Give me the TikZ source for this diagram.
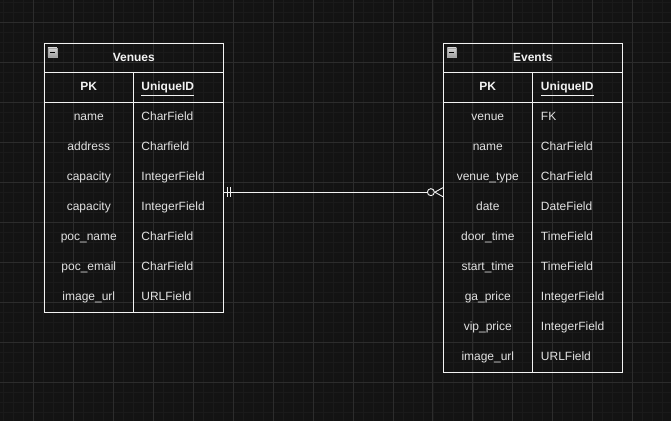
\documentclass[tikz,border=0pt]{standalone}
\usepackage{fontspec}
\setmainfont{Liberation Sans}
\usetikzlibrary{calc,positioning}
\definecolor{canvas}{HTML}{131313}
\definecolor{minorline}{HTML}{1A1A1A}
\definecolor{majorline}{HTML}{2C2C2C}
\definecolor{ink}{HTML}{F2F2F2}
\definecolor{soft}{HTML}{E2E2E2}
\begin{document}
\begin{tikzpicture}[x=1pt,y=-1pt,
		every node/.style={font=\fontsize{12}{14}\selectfont,text=soft,inner sep=0pt,text height=8.8pt,text depth=2.4pt},
		tbl/.style={draw=ink,line width=0.9pt,anchor=north west,minimum width=179pt,text height=,text depth=},
		rule/.style={draw=ink,line width=0.9pt},
		head/.style={font=\fontsize{12}{14}\selectfont\bfseries,text=ink},
		fld/.style={anchor=west},
		link/.style={draw=ink,line width=1.3pt},
		toggle/.style={draw=gray!70,top color=gray!35,bottom color=gray!75,line width=0.5pt}]
			% canvas and grid
			\fill[canvas] (0,0) rectangle (671,421);
			\foreach \gx in {3,13,...,663} \draw[minorline,line width=0.6pt] (\gx,0) -- (\gx,421);
			\foreach \gy in {2,12,...,412} \draw[minorline,line width=0.6pt] (0,\gy) -- (671,\gy);
			\foreach \gx in {33,73,...,633} \draw[majorline,line width=0.8pt] (\gx,0) -- (\gx,421);
			\foreach \gy in {22,62,...,382} \draw[majorline,line width=0.8pt] (0,\gy) -- (671,\gy);
			\useasboundingbox (0,0) rectangle (671,421);
			% Venues table
			\node[tbl,minimum height=269pt] (venues) at (44,43) {};
			\draw[rule] (44,72) -- (223,72);
			\draw[rule] (44,102) -- (223,102);
			\draw[rule] (133,72) -- (133,312);
			\draw[toggle] (47.5,47.5) rectangle (56.5,56.5);
			\draw[black,line width=1.2pt] (49.5,52) -- (54.5,52);
			\node[head] (v-title) at (133.5,57.5) {Venues};
			\node[head] (v-pk) at (88.5,87.5) {PK};
			\node[head,fld] (v-id) at (141,87.5) {\underline{UniqueID}};
			\node (v-name) at (88.5,117) {name};
			\node[fld] (v-name-t) at (141,117) {CharField};
			\node (v-address) at (88.5,147) {address};
			\node[fld] (v-address-t) at (141,147) {Charfield};
			\node (v-capacity) at (88.5,177) {capacity};
			\node[fld] (v-capacity-t) at (141,177) {IntegerField};
			\node (v-capacity2) at (88.5,207) {capacity};
			\node[fld] (v-capacity2-t) at (141,207) {IntegerField};
			\node (v-poc) at (88.5,237) {poc\_name};
			\node[fld] (v-poc-t) at (141,237) {CharField};
			\node (v-email) at (88.5,267) {poc\_email};
			\node[fld] (v-email-t) at (141,267) {CharField};
			\node (v-image) at (88.5,297) {image\_url};
			\node[fld] (v-image-t) at (141,297) {URLField};
			% Events table
			\node[tbl,minimum height=329pt] (events) at (443,43) {};
			\draw[rule] (443,72) -- (623,72);
			\draw[rule] (443,102) -- (623,102);
			\draw[rule] (533,72) -- (533,372);
			\draw[toggle] (447.5,47.5) rectangle (456.5,56.5);
			\draw[black,line width=1.2pt] (449.5,52) -- (454.5,52);
			\node[head] (e-title) at (533,57.5) {Events};
			\node[head] (e-pk) at (488,87.5) {PK};
			\node[head,fld] (e-id) at (541,87.5) {\underline{UniqueID}};
			\node (e-venue) at (488,117) {venue};
			\node[fld] (e-venue-t) at (541,117) {FK};
			\node (e-name) at (488,147) {name};
			\node[fld] (e-name-t) at (541,147) {CharField};
			\node (e-type) at (488,177) {venue\_type};
			\node[fld] (e-type-t) at (541,177) {CharField};
			\node (e-date) at (488,207) {date};
			\node[fld] (e-date-t) at (541,207) {DateField};
			\node (e-door) at (488,237) {door\_time};
			\node[fld] (e-door-t) at (541,237) {TimeField};
			\node (e-start) at (488,267) {start\_time};
			\node[fld] (e-start-t) at (541,267) {TimeField};
			\node (e-ga) at (488,297) {ga\_price};
			\node[fld] (e-ga-t) at (541,297) {IntegerField};
			\node (e-vip) at (488,327) {vip\_price};
			\node[fld] (e-vip-t) at (541,327) {IntegerField};
			\node (e-image) at (488,357) {image\_url};
			\node[fld] (e-image-t) at (541,357) {URLField};
			% relation: one venue, many events
			\coordinate (lnk) at (0,192);
			\coordinate (lnk-v) at (venues.east |- lnk);
			\coordinate (lnk-e) at (events.west |- lnk);
			\draw[link] (lnk-v) -- ($(lnk-e)+(-15.5,0)$);
			\draw[draw=ink,line width=0.9pt] ($(lnk-v)+(3.5,-5)$) -- ++(0,10);
			\draw[draw=ink,line width=0.9pt] ($(lnk-v)+(6.5,-5)$) -- ++(0,10);
			\draw[draw=ink,line width=0.9pt] ($(lnk-e)+(-12,0)$) circle (3.5);
			\draw[draw=ink,line width=0.9pt] ($(lnk-e)+(0,-4.5)$) -- ($(lnk-e)+(-8,0)$) -- ($(lnk-e)+(0,4.5)$);
			\end{tikzpicture}
\end{document}
